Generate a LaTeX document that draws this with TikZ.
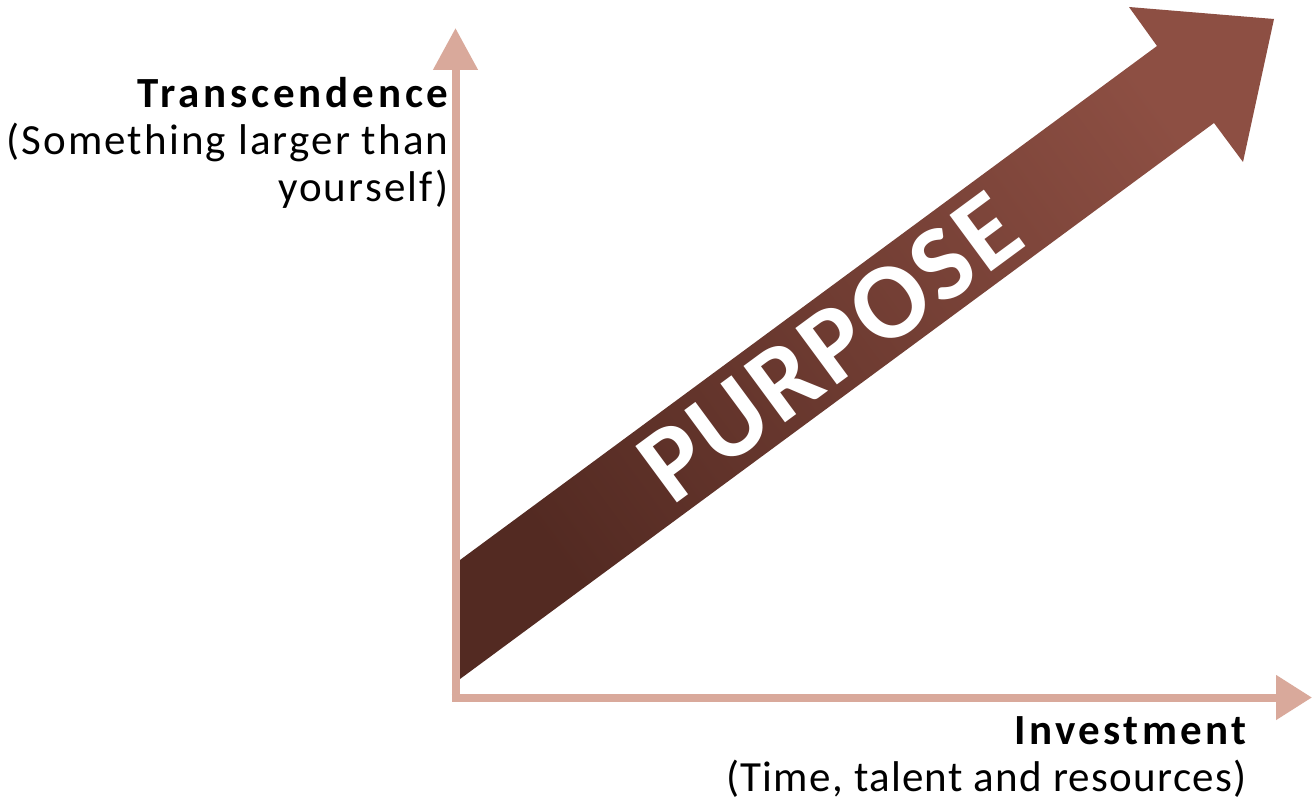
\documentclass[tikz,border=0pt]{standalone}
\usepackage{fontspec}
\setmainfont{Carlito}
\usetikzlibrary{arrows.meta}
\definecolor{axiscol}{RGB}{217,169,155}
\definecolor{darkbrown}{RGB}{83,42,34}
\definecolor{lightbrown}{RGB}{141,79,67}

\begin{document}
\begin{tikzpicture}[x = 0.5pt, y = -0.5pt,
    axisline/.style = {draw = axiscol, line width = 4pt},
    axislabel/.style = {align = right, inner sep = 0pt, font = \fontsize{21.5}{23.5}\selectfont},
    purpose/.style = {text = white, inner sep = 0pt, rotate = 36.4,
        font = \fontsize{54}{58}\selectfont\bfseries\addfontfeature{LetterSpace = 3}}]
    \useasboundingbox (0, 0) rectangle (1312, 802);

    % axes
    \coordinate (origin) at (455.5, 701.5);
    \coordinate (xstart) at (451.5, 697.5);
    \coordinate (ytip)   at (455.5, 28);
    \coordinate (xtip)   at (1312, 697.5);
    \draw[axisline, -{Triangle[width = 21.5pt, length = 21pt]}] (origin) -- (ytip);
    \draw[axisline, -{Triangle[width = 21.5pt, length = 18pt]}] (xstart) -- (xtip);

    % big arrow
    \shade[left color = darkbrown, right color = lightbrown, shading angle = 126.4]
        (460, 560) -- (1157, 46) -- (1129, 7) -- (1274, 19) -- (1243, 162) -- (1214, 123) -- (460, 679) -- cycle;
    \node[purpose] (word) at (830, 347) {PURPOSE};

    \node[axislabel, anchor = north east] (ylabel) at (449, 77)
        {{\bfseries\addfontfeature{LetterSpace = 9}Transcendence}\\
         {\addfontfeature{LetterSpace = 5}(Something larger than}\\
         {\addfontfeature{LetterSpace = 5}yourself)}};
    \node[axislabel, anchor = north east] (xlabel) at (1247, 716)
        {{\bfseries\addfontfeature{LetterSpace = 8}Investment}\\
         {\addfontfeature{LetterSpace = 3}(Time, talent and resources)}};
\end{tikzpicture}
\end{document}
